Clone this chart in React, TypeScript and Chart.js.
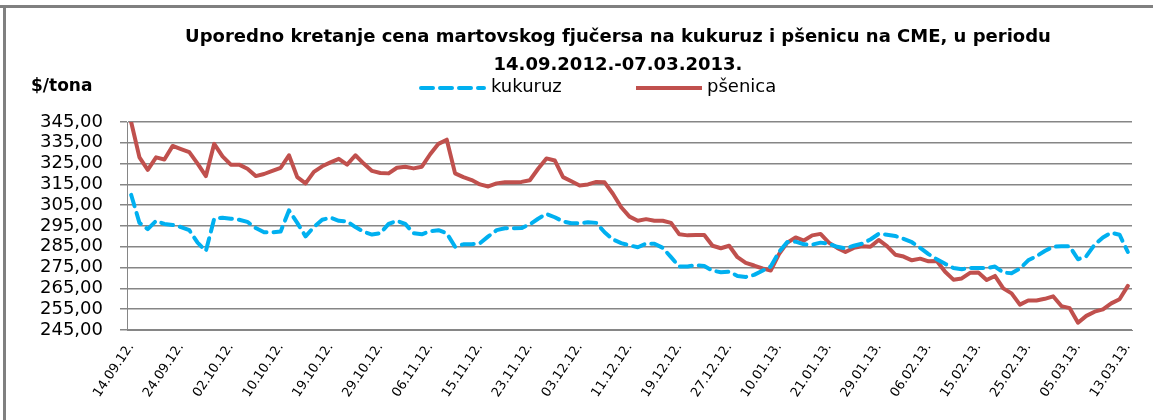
import React, { useEffect, useRef } from "react";
import { Chart, registerables } from "chart.js";

Chart.register(...registerables);

const tickLabels = [
  "14.09.12.", "24.09.12.", "02.10.12.", "10.10.12.", "19.10.12.", "29.10.12.", "06.11.12.",
  "15.11.12.", "23.11.12.", "03.12.12.", "11.12.12.", "19.12.12.", "27.12.12.", "10.01.13.",
  "21.01.13.", "29.01.13.", "06.02.13.", "15.02.13.", "25.02.13.", "05.03.13.", "13.03.13.",
];

const kukuruz = [
  310, 296.5, 293.5, 297.5, 296, 295.5, 294.5, 293, 287, 283,
  298.5, 299, 298.5, 298, 297, 294, 292, 292, 292.3, 302.5,
  296.5, 290, 294.5, 298, 299, 297.5, 297.2, 294.5, 292.2, 290.9,
  291.5, 296, 297.5, 296, 291.5, 291, 292.5, 293, 291.5, 285,
  286.2, 286.2, 286.7, 290, 293, 293.9, 293.9, 294, 295.8, 298.5,
  300.8, 299.2, 297.2, 296.3, 296.3, 296.8, 296.5, 292, 288.5, 286.8,
  285.7, 284.8, 286.5, 286.5, 284.5, 280, 275.5, 275.5, 276.2, 275.8,
  273.5, 272.8, 273, 271, 270.5, 271.5, 273.5, 275.5, 282.5, 287.3,
  287.5, 286.2, 286, 287, 286.5, 285, 284.3, 285.5, 286.5, 288.5,
  291.2, 290.8, 290.2, 288.8, 287.2, 284.5, 281.5, 279, 276.8, 274.8,
  274.2, 274.8, 274.8, 274.8, 275.5, 272.6, 272.3, 274.5, 278.5, 280.5,
  283, 285, 285.3, 285.2, 279, 280.5, 286, 289.5, 291.8, 290.8, 282.5,
];

const psenica = [
  345, 328, 322, 328, 327, 333.5, 332, 330.5, 325, 319,
  334.5, 328.5, 324.5, 324.5, 322.5, 319, 320, 321.5, 323, 329,
  318.5, 315.5, 321, 323.7, 325.6, 327.3, 324.5, 329, 325, 321.5,
  320.5, 320.3, 323, 323.5, 322.7, 323.5, 329.5, 334.5, 336.5, 320.3,
  318.5, 317.1, 315, 314, 315.5, 316, 316, 316.2, 317, 322.5,
  327.5, 326.5, 318.5, 316.5, 314.5, 315, 316.2, 316, 310.5, 304,
  299.5, 297.5, 298.3, 297.5, 297.5, 296.5, 291, 290.5, 290.7, 290.7,
  285.5, 284.3, 285.5, 280, 277.3, 276, 274.6, 273.6, 281.5, 287,
  289.5, 288, 290.5, 291.2, 287, 284.5, 282.5, 284.5, 285.3, 285,
  288.3, 285.3, 281.2, 280.3, 278.5, 279.3, 278, 278.2, 273, 269.2,
  269.8, 272.5, 272.6, 269, 271, 265, 262.6, 257.2, 259.2, 259.2,
  260, 261.2, 256.5, 255.5, 248.5, 251.8, 253.8, 254.9, 257.8, 259.8, 266.2,
];

const titleLines = [
  "Uporedno kretanje cena martovskog fjučersa na kukuruz i pšenicu na CME, u periodu",
  "14.09.2012.-07.03.2013.",
];
const yTitle = "$/tona";
const seriesNames = ["kukuruz", "pšenica"];
const colors = ["#00B0F0", "#C0504D"];

const FONT = "'DejaVu Sans', sans-serif";

export default function App() {
  const ref = useRef<HTMLCanvasElement | null>(null);

  useEffect(() => {
    const labels = kukuruz.map((_, i) => (i % 6 === 0 ? tickLabels[i / 6] ?? "" : ""));
    const chart = new Chart(ref.current as HTMLCanvasElement, {
      type: "line",
      data: {
        labels,
        datasets: [
          {
            label: seriesNames[0],
            data: kukuruz,
            borderColor: colors[0],
            borderWidth: 4,
            borderDash: [12, 7],
            borderCapStyle: "round",
            borderJoinStyle: "round",
            pointRadius: 0,
            tension: 0,
            fill: false,
          },
          {
            label: seriesNames[1],
            data: psenica,
            borderColor: colors[1],
            borderWidth: 4,
            borderJoinStyle: "round",
            borderCapStyle: "round",
            pointRadius: 0,
            tension: 0,
            fill: false,
          },
        ],
      },
      options: {
        responsive: false,
        animation: false,
        layout: { padding: { top: 122, right: 21, bottom: 0, left: 0 } },
        plugins: {
          legend: { display: false },
          title: { display: false },
          tooltip: { enabled: false },
        },
        scales: {
          x: {
            offset: true,
            grid: { display: false, drawTicks: false },
            border: { display: true, color: "#868686", width: 1 },
            ticks: {
              autoSkip: false,
              maxRotation: 56,
              minRotation: 56,
              padding: 10,
              color: "#000",
              font: { family: FONT, size: 13 },
            },
            afterFit: (s: any) => {
              s.height = 90;
            },
          },
          y: {
            min: 245,
            max: 345,
            ticks: {
              stepSize: 10,
              autoSkip: false,
              padding: 17,
              color: "#000",
              font: { family: FONT, size: 18 },
              callback: (v: any) => Number(v).toFixed(2).replace(".", ","),
            },
            grid: { color: "#868686", lineWidth: 1.5, tickLength: 7 },
            border: { display: true, color: "#868686", width: 1 },
            afterFit: (s: any) => {
              s.width = 127;
            },
          },
        },
      },
    });
    return () => chart.destroy();
  }, []);

  const textBase: React.CSSProperties = {
    position: "absolute",
    whiteSpace: "nowrap",
    fontFamily: FONT,
    color: "#000",
    lineHeight: 1,
  };

  return (
    <div style={{ position: "absolute", left: 0, top: 0, width: 1153, height: 420, background: "#fff", overflow: "hidden" }}>
      <canvas ref={ref} width={1153} height={420} style={{ position: "absolute", left: 0, top: 0, width: 1153, height: 420 }} />
      <div style={{ position: "absolute", left: 0, top: 5, width: 1153, height: 3, background: "#808080" }} />
      <div style={{ position: "absolute", left: 3, top: 5, width: 3, height: 415, background: "#808080" }} />
      <div style={{ ...textBase, left: 618, top: 27, transform: "translateX(-50%)", fontSize: 18, fontWeight: "bold" }}>{titleLines[0]}</div>
      <div style={{ ...textBase, left: 618, top: 55, transform: "translateX(-50%)", fontSize: 18, fontWeight: "bold" }}>{titleLines[1]}</div>
      <div style={{ ...textBase, left: 31, top: 77, fontSize: 17, fontWeight: "bold" }}>{yTitle}</div>
      <svg style={{ position: "absolute", left: 0, top: 0 }} width={1153} height={120}>
        <line x1={421} y1={88} x2={484} y2={88} stroke={colors[0]} strokeWidth={4} strokeDasharray="12 7" strokeLinecap="round" />
        <line x1={636} y1={88} x2={702} y2={88} stroke={colors[1]} strokeWidth={4} />
      </svg>
      <div style={{ ...textBase, left: 491, top: 77, fontSize: 18 }}>{seriesNames[0]}</div>
      <div style={{ ...textBase, left: 707, top: 77, fontSize: 18 }}>{seriesNames[1]}</div>
    </div>
  );
}
